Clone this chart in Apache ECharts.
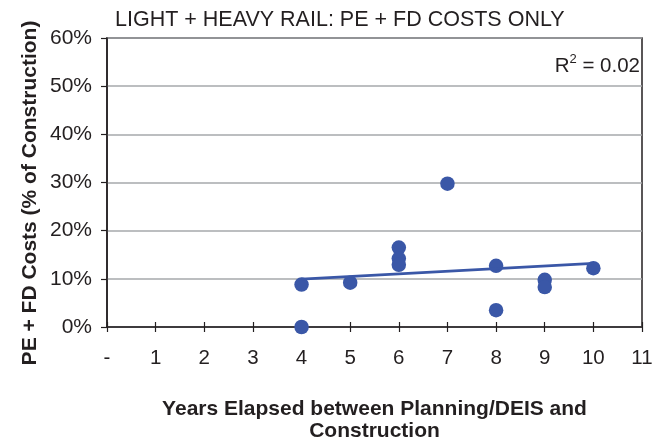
<!DOCTYPE html>
<html><head><meta charset="utf-8">
<script src="https://cdn.jsdelivr.net/npm/echarts@6/dist/echarts.min.js"></script>
<style>html,body{margin:0;padding:0;background:#fff}#c{width:666px;height:439px}</style>
</head><body><div id="c"></div>
<script>
const years = [4, 4, 5, 6, 6, 6, 7, 8, 8, 9, 9, 10];
const costs = [8.8, 0, 9.2, 16.5, 14.2, 12.9, 29.75, 12.7, 3.5, 9.8, 8.3, 12.2];
const xTickLabels = ['-', '1', '2', '3', '4', '5', '6', '7', '8', '9', '10', '11'];
const titleText = 'LIGHT + HEAVY RAIL: PE + FD COSTS ONLY';
const yTitle = 'PE + FD Costs (% of Construction)';
const xTitle = 'Years Elapsed between Planning/DEIS and\nConstruction';
const r2Text = '0.02';

// linear regression (trendline)
const n = years.length;
const mx = years.reduce((a, b) => a + b, 0) / n;
const my = costs.reduce((a, b) => a + b, 0) / n;
let sxy = 0, sxx = 0;
for (let i = 0; i < n; i++) { sxy += (years[i] - mx) * (costs[i] - my); sxx += (years[i] - mx) ** 2; }
const slope = sxy / sxx, icpt = my - slope * mx;
const xmin = Math.min(...years), xmax = Math.max(...years);
const trend = [[xmin, icpt + slope * xmin], [xmax, icpt + slope * xmax]];

const blue = '#3a57a7';
const ink = '#231f20';
const font = 'Liberation Sans, Arial, Helvetica, sans-serif';
const chart = echarts.init(document.getElementById('c'), null, { renderer: 'canvas' });
chart.setOption({
  animation: false,
  title: { text: titleText, left: 110, top: 4, textStyle: { fontFamily: font, fontSize: 21.5, fontWeight: 'normal', color: ink } },
  grid: { left: 107, right: 24, top: 38, bottom: 112, show: true, borderColor: ink, borderWidth: 1.5, containLabel: false, outerBoundsMode: 'none' },
  xAxis: [{
    type: 'value', min: 0, max: 11, interval: 1,
    axisLine: { lineStyle: { color: ink, width: 1.5 } },
    axisTick: { show: true, length: 5, lineStyle: { color: ink, width: 1.2 } },
    axisLabel: { fontFamily: font, fontSize: 20.5, color: ink, margin: 21, formatter: v => xTickLabels[v] },
    splitLine: { show: false },
    name: xTitle,
    nameLocation: 'middle', nameGap: 71,
    nameTextStyle: { fontFamily: font, fontSize: 21, fontWeight: 'bold', color: ink, lineHeight: 22 }
  }, {
    type: 'value', min: 0, max: 11, interval: 1, position: 'bottom',
    axisLine: { show: false },
    axisTick: { show: true, inside: true, length: 5, lineStyle: { color: ink, width: 1.2 } },
    axisLabel: { show: false }, splitLine: { show: false }
  }],
  yAxis: {
    type: 'value', min: 0, max: 60, interval: 10,
    axisLine: { show: true, lineStyle: { color: ink, width: 1.5 } },
    axisTick: { show: true, length: 6, lineStyle: { color: ink, width: 1.2 } },
    axisLabel: { fontFamily: font, fontSize: 21, color: ink, margin: 15, formatter: '{value}%' },
    splitLine: { show: true, lineStyle: { color: '#a6a8ab', width: 1.5 } }
  },
  graphic: [{
    type: 'text', x: 30, y: 193, rotation: Math.PI / 2,
    style: { text: yTitle, fontFamily: font, fontSize: 21, fontWeight: 'bold', fill: ink, align: 'center', verticalAlign: 'middle' }
  }, {
    type: 'text', right: 26, top: 53,
    style: {
      text: '{r|R}{s|2}{r| = ' + r2Text + '}',
      rich: {
        r: { fontFamily: font, fontSize: 20.5, fill: ink, verticalAlign: 'bottom', lineHeight: 24 },
        s: { fontFamily: font, fontSize: 13, fill: ink, verticalAlign: 'top', lineHeight: 24, padding: [0, 0, 10, 0] }
      }
    }
  }],
  series: [{
    type: 'scatter', data: years.map((x, i) => [x, costs[i]]),
    symbol: 'circle', symbolSize: 14.5, itemStyle: { color: blue, opacity: 1 }, z: 3
  }, {
    type: 'line', data: trend, symbol: 'none',
    lineStyle: { color: blue, width: 2.8 }, z: 4
  }]
});
</script></body></html>
